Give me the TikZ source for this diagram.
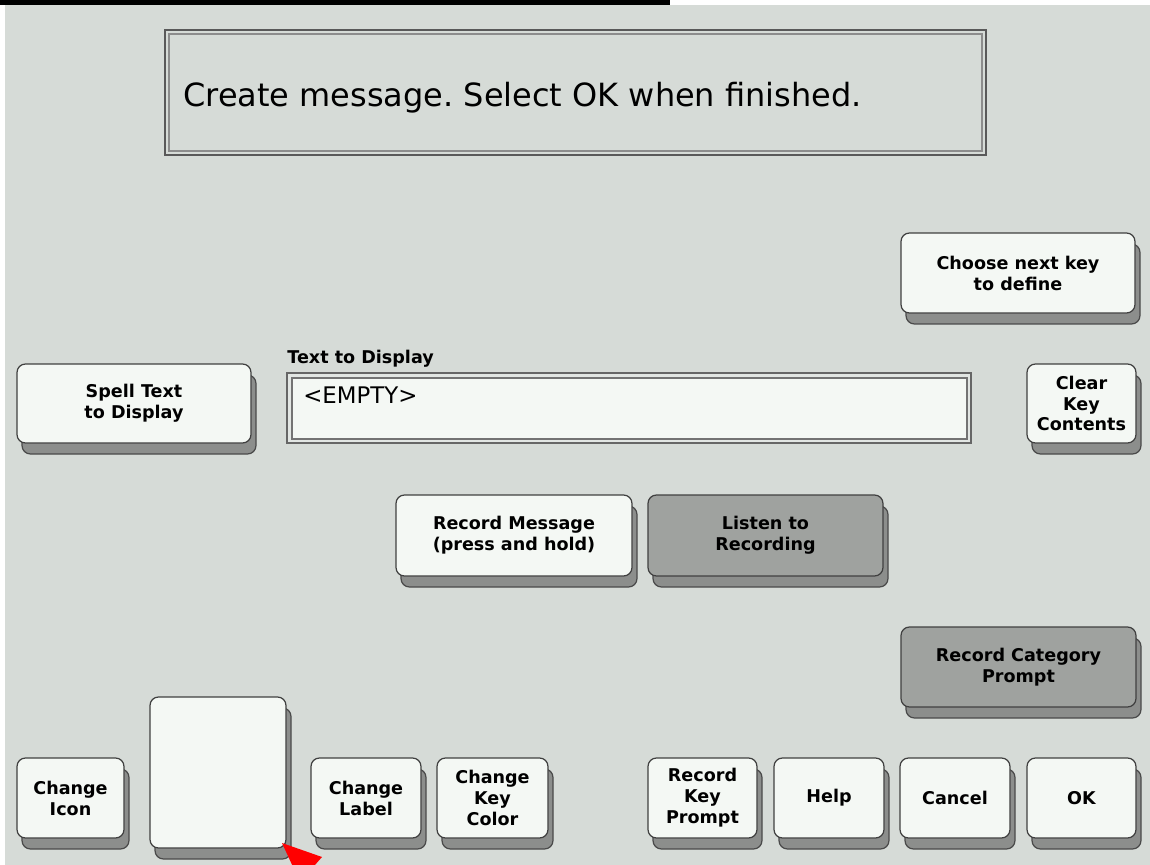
\documentclass[tikz,border=0pt]{standalone}
\usepackage{fontspec}
\setmainfont{DejaVu Sans}
\frenchspacing
\usetikzlibrary{shadows}
\definecolor{bg}{HTML}{D6DBD7}
\definecolor{keyfill}{HTML}{F4F8F4}
\definecolor{keyedge}{HTML}{404040}
\definecolor{shadowfill}{HTML}{8C8E8C}
\definecolor{shadowedge}{HTML}{4A4A4A}
\definecolor{dimfill}{HTML}{9FA29F}
\tikzset{
  kbtn/.style={draw=keyedge, line width=0.7pt, fill=keyfill, rounded corners=0.17cm,
    align=center, inner sep=0pt,
    font=\fontsize{10}{11.9}\selectfont\bfseries,
    general shadow={shadow xshift=0.1cm, shadow yshift=-0.22cm, fill=shadowfill, draw=shadowedge, line width=0.7pt}},
  dimkey/.style={fill=dimfill},
}
\newcommand\kbtn[7]{%
  \node[kbtn,#7, minimum width={(#4-#2)*0.02cm}, minimum height={(#5-#3)*0.02cm}]
    (#1) at ({(#2+#4)/2},{(#3+#5)/2}) {#6};}
\begin{document}
\begin{tikzpicture}[x=0.02cm,y=-0.02cm]
\useasboundingbox (0,0) rectangle (1150,865);
\fill[white] (0,0) rectangle (1150,865);
\fill[bg] (5,5) rectangle (1150,865);
\fill[black] (0,0) rectangle (670,5);
% message box
\draw[draw=black!65, line width=0.8pt] (165,30) rectangle (986,155);
\draw[draw=black!45, line width=0.6pt] (169,34) rectangle (982,151);
\node[anchor=west, inner sep=0pt, font=\fontsize{18.2}{20}\selectfont] (msg) at (183,98) {Create message. Select OK when finished.};
% text field
\node[anchor=south west, inner sep=0pt, font=\fontsize{10}{12}\selectfont\bfseries] (tdl) at (287,368) {Text to Display};
\draw[draw=black!60, line width=0.7pt, fill=bg!70!white] (287,373) rectangle (971,443);
\draw[draw=black!55, line width=0.6pt, fill=keyfill] (292,378) rectangle (967,439);
\node[anchor=north west, inner sep=0pt, font=\fontsize{13}{15}\selectfont] (empty) at (303,386) {<EMPTY>};
% buttons
\kbtn{next}{901}{233}{1135}{313}{Choose next key\\to define}{}
\kbtn{spell}{17}{364}{251}{443}{Spell Text\\to Display}{}
\kbtn{clear}{1027}{364}{1136}{443}{Clear\\Key\\Contents}{}
\kbtn{recmsg}{396}{495}{632}{576}{Record Message\\(press and hold)}{}
\kbtn{listen}{648}{495}{883}{576}{Listen to\\Recording}{dimkey}
\kbtn{reccat}{901}{627}{1136}{707}{Record Category\\Prompt}{dimkey}
\kbtn{icon}{17}{758}{124}{838}{Change\\Icon}{}
\kbtn{blank}{150}{697}{286}{848}{}{}
\kbtn{label}{311}{758}{421}{838}{Change\\Label}{}
\kbtn{color}{437}{758}{548}{838}{Change\\Key\\Color}{}
\kbtn{reckey}{648}{758}{757}{838}{Record\\Key\\Prompt}{}
\kbtn{help}{774}{758}{884}{838}{Help}{}
\kbtn{cancel}{900}{758}{1010}{838}{Cancel}{}
\kbtn{ok}{1027}{758}{1136}{838}{OK}{}
% cursor
\fill[red] (282,843) -- (322,857) -- (300,882) -- cycle;
\end{tikzpicture}
\end{document}
